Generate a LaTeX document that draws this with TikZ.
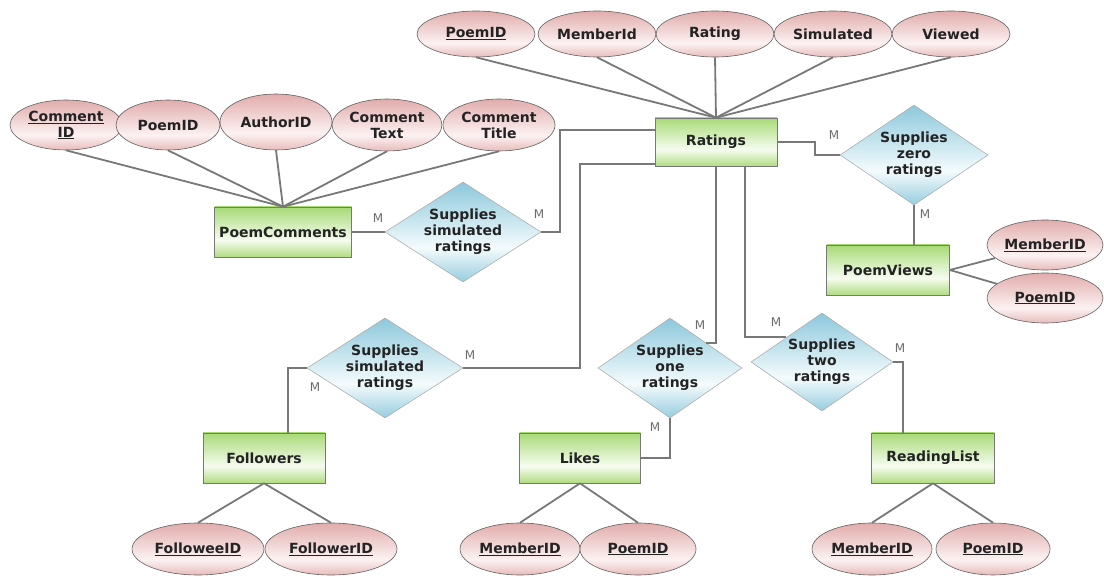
\documentclass[tikz,border=0pt]{standalone}
\usepackage{fontspec}
\setmainfont{DejaVu Sans}
\usetikzlibrary{shapes.geometric}
\definecolor{pinkT}{RGB}{226,172,172}
\definecolor{pinkL}{RGB}{232,188,188}
\definecolor{pinkB}{RGB}{252,242,242}
\definecolor{greenT}{RGB}{168,218,118}
\definecolor{greenL}{RGB}{176,220,130}
\definecolor{greenM}{RGB}{246,252,240}
\definecolor{blueT}{RGB}{140,200,220}
\definecolor{blueL}{RGB}{150,205,223}
\definecolor{blueM}{RGB}{244,251,253}
\definecolor{lineC}{RGB}{120,120,120}
\definecolor{txt}{RGB}{35,35,35}
\pgfdeclareverticalshading{entshade}{100bp}{color(0bp)=(greenL); color(25bp)=(greenL); color(42bp)=(greenM); color(75bp)=(greenT); color(100bp)=(greenT)}
\pgfdeclareverticalshading{relshade}{100bp}{color(0bp)=(blueL); color(25bp)=(blueL); color(42bp)=(blueM); color(75bp)=(blueT); color(100bp)=(blueT)}
\pgfdeclareverticalshading{attrshade}{100bp}{color(0bp)=(pinkL); color(25bp)=(pinkL); color(40bp)=(pinkB); color(75bp)=(pinkT); color(100bp)=(pinkT)}
\tikzset{
  attr/.style={ellipse, draw=lineC!80!black, line width=0.6pt, shading=attrshade,
    inner sep=0pt, font=\fontsize{14}{16}\selectfont\bfseries, text=txt, align=center},
  ent/.style={rectangle, draw=lineC, line width=0.6pt, shading=entshade,
    inner sep=0pt, font=\fontsize{14}{16}\selectfont\bfseries, text=txt},
  rel/.style={diamond, aspect=1.5, draw=lineC!60, line width=0.6pt, shading=relshade,
    inner sep=0pt, font=\fontsize{14}{16}\selectfont\bfseries, text=txt, align=center},
  conn/.style={draw=lineC, line width=1.8pt},
  card/.style={font=\fontsize{12}{14}\selectfont, text=lineC!90!black, inner sep=0pt}
}
\begin{document}
\begin{tikzpicture}[x=1pt,y=-1pt]
\useasboundingbox (0,0) rectangle (1104,577);
% Ratings attributes
\node[attr, minimum width=118, minimum height=46] (ra1) at (476,34) {\underline{PoemID}};
\node[attr, minimum width=118, minimum height=46] (ra2) at (597,34) {MemberId};
\node[attr, minimum width=118, minimum height=46] (ra3) at (715,34) {Rating};
\node[attr, minimum width=118, minimum height=46] (ra4) at (833,34) {Simulated};
\node[attr, minimum width=118, minimum height=46] (ra5) at (951,34) {Viewed};
% PoemComments attributes
\node[attr, minimum width=112, minimum height=50] (pa1) at (66,125) {\underline{Comment}\\\underline{ID}};
\node[attr, minimum width=104, minimum height=50] (pa2) at (168,125) {PoemID};
\node[attr, minimum width=112, minimum height=56] (pa3) at (276,122) {AuthorID};
\node[attr, minimum width=110, minimum height=52] (pa4) at (387,125) {Comment\\Text};
\node[attr, minimum width=112, minimum height=52] (pa5) at (499,125) {Comment\\Title};
% PoemViews attributes
\node[attr, minimum width=116, minimum height=50] (va1) at (1045,245) {\underline{MemberID}};
\node[attr, minimum width=116, minimum height=50] (va2) at (1045,298) {\underline{PoemID}};
% bottom attributes
\node[attr, minimum width=132, minimum height=52] (fa1) at (198,549) {\underline{FolloweeID}};
\node[attr, minimum width=132, minimum height=52] (fa2) at (331,549) {\underline{FollowerID}};
\node[attr, minimum width=120, minimum height=52] (la1) at (520,549) {\underline{MemberID}};
\node[attr, minimum width=116, minimum height=52] (la2) at (638,549) {\underline{PoemID}};
\node[attr, minimum width=120, minimum height=52] (ba1) at (872,549) {\underline{MemberID}};
\node[attr, minimum width=114, minimum height=52] (ba2) at (993,549) {\underline{PoemID}};
% entities
\node[ent, minimum width=122, minimum height=48] (rat) at (716,142) {Ratings};
\node[ent, minimum width=137, minimum height=50] (pc) at (283,232) {PoemComments};
\node[ent, minimum width=123, minimum height=50] (pv) at (888,270) {PoemViews};
\node[ent, minimum width=122, minimum height=50] (fol) at (264,458) {Followers};
\node[ent, minimum width=121, minimum height=50] (lik) at (580,458) {Likes};
\node[ent, minimum width=123, minimum height=50] (rl) at (933,458) {ReadingList};
% relationships
\node[rel, minimum width=156, minimum height=100] (d1) at (463,232) {Supplies\\simulated\\ratings};
\node[rel, minimum width=148, minimum height=100] (d2) at (914,155) {Supplies\\zero\\ratings};
\node[rel, minimum width=156, minimum height=100] (d3) at (385,368) {Supplies\\simulated\\ratings};
\node[rel, minimum width=144, minimum height=100] (d4) at (670,368) {Supplies\\one\\ratings};
\node[rel, minimum width=142, minimum height=98] (d5) at (822,362) {Supplies\\two\\ratings};
% attribute connectors
\foreach \a in {ra1,ra2,ra3,ra4,ra5} \draw[conn] (\a.south) -- (rat.north);
\foreach \a in {pa1,pa2,pa3,pa4,pa5} \draw[conn] (\a.south) -- (pc.north);
\foreach \a in {va1,va2} \draw[conn] (pv.east) -- (\a);
\foreach \a in {fa1,fa2} \draw[conn] (fol.south) -- (\a.north);
\foreach \a in {la1,la2} \draw[conn] (lik.south) -- (\a.north);
\foreach \a in {ba1,ba2} \draw[conn] (rl.south) -- (\a.north);
% relationship connectors
\draw[conn] (pc.east) -- (d1.west);
\draw[conn] (d1.east) -- ++(19,0) |- ([yshift=12pt]rat.west);
\draw[conn] (rat.east) -- ++(38,0) |- (d2.west);
\draw[conn] (d2.south) -- (d2.south |- pv.north);
\draw[conn] (d3.east) -- ++(117,0) |- ([yshift=2pt]rat.south west);
\draw[conn] (d3.west) -| ([xshift=24pt]fol.north);
\draw[conn] (rat.south) |- (d4.north east);
\draw[conn] (d4.south) |- (lik.east);
\draw[conn] ([xshift=29pt]rat.south) |- (d5.north west);
\draw[conn] (d5.east) -| ([xshift=-30pt]rl.north);
% cardinalities
\node[card] (m1) at (378,218) {M};
\node[card] (m2) at (539,214) {M};
\node[card] (m3) at (834,135) {M};
\node[card] (m4) at (925,214) {M};
\node[card] (m5) at (470,355) {M};
\node[card] (m6) at (315,387) {M};
\node[card] (m7) at (700,325) {M};
\node[card] (m8) at (655,427) {M};
\node[card] (m9) at (776,322) {M};
\node[card] (m10) at (900,348) {M};
\end{tikzpicture}
\end{document}
